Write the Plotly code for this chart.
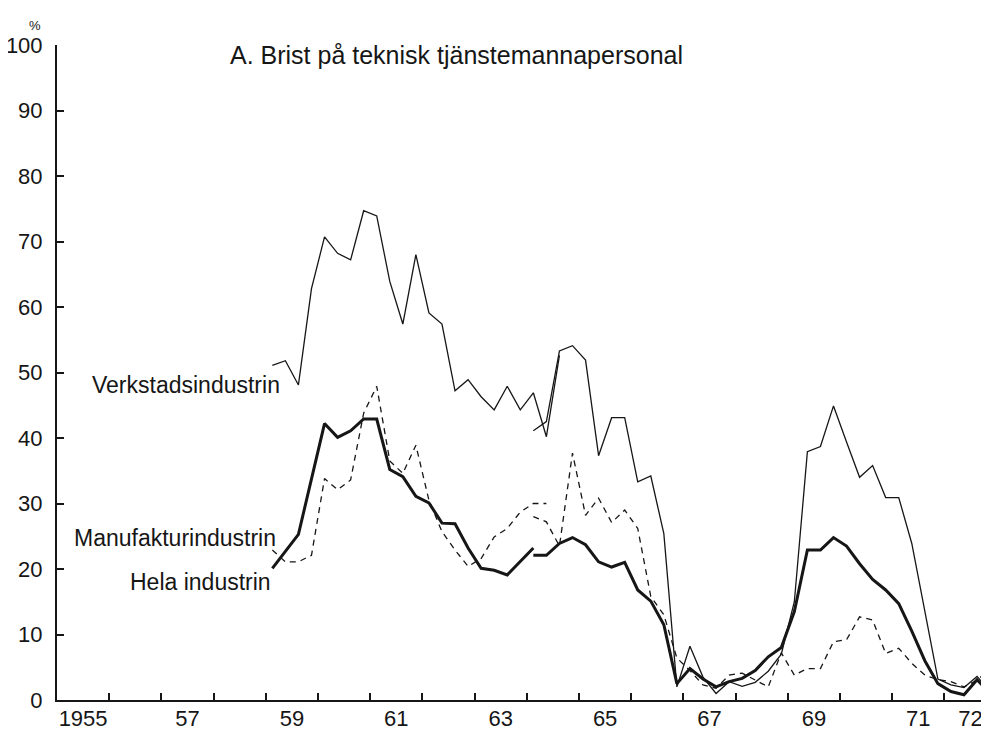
import plotly.graph_objects as go

# Verkstadsindustrin, old series (thin solid)
verk_old_x = [1959.125, 1959.375, 1959.625, 1959.875, 1960.125, 1960.375, 1960.625, 1960.875,
              1961.125, 1961.375, 1961.625, 1961.875, 1962.125, 1962.375, 1962.625, 1962.875,
              1963.125, 1963.375, 1963.625, 1963.875, 1964.125, 1964.375, 1964.625]
verk_old_y = [51.1, 51.8, 48.1, 62.8, 70.7, 68.2, 67.2, 74.7,
              73.9, 63.9, 57.4, 68.0, 59.1, 57.4, 47.2, 48.9,
              46.3, 44.3, 47.9, 44.3, 46.9, 40.2, 52.6]

# Verkstadsindustrin, new series
verk_new_x = [1964.125, 1964.375, 1964.625, 1964.875, 1965.125, 1965.375, 1965.625, 1965.875,
              1966.125, 1966.375, 1966.625, 1966.875, 1967.125, 1967.375, 1967.625, 1967.875,
              1968.125, 1968.375, 1968.625, 1968.875, 1969.125, 1969.375, 1969.625, 1969.875,
              1970.125, 1970.375, 1970.625, 1970.875, 1971.125, 1971.375, 1971.875, 1972.125,
              1972.375, 1972.625, 1972.85]
verk_new_y = [41.1, 42.5, 53.3, 54.1, 51.9, 37.3, 43.1, 43.1,
              33.3, 34.2, 25.4, 2.0, 8.2, 3.5, 1.0, 2.8,
              2.1, 2.7, 4.4, 7.0, 15.0, 37.9, 38.7, 44.9,
              39.4, 34.0, 35.8, 30.9, 30.9, 23.9, 3.2, 2.3,
              1.9, 3.6, 1.5]

# Hela industrin (thick solid)
hela_old_x = [1959.125, 1959.625, 1960.125, 1960.375, 1960.625, 1960.875, 1961.125, 1961.375,
              1961.625, 1961.875, 1962.125, 1962.375, 1962.625, 1962.875, 1963.125, 1963.375,
              1963.625, 1963.875, 1964.125]
hela_old_y = [20.1, 25.3, 42.2, 40.1, 41.1, 42.9, 42.9, 35.2,
              34.1, 31.1, 30.1, 27.0, 26.9, 23.2, 20.1, 19.8,
              19.1, 21.1, 23.2]

hela_new_x = [1964.125, 1964.375, 1964.625, 1964.875, 1965.125, 1965.375, 1965.625, 1965.875,
              1966.125, 1966.375, 1966.625, 1966.875, 1967.125, 1967.375, 1967.625, 1967.875,
              1968.125, 1968.375, 1968.625, 1968.875, 1969.125, 1969.375, 1969.625, 1969.875,
              1970.125, 1970.375, 1970.625, 1970.875, 1971.125, 1971.375, 1971.625, 1971.875,
              1972.125, 1972.375, 1972.625, 1972.85]
hela_new_y = [22.1, 22.1, 23.9, 24.8, 23.7, 21.1, 20.3, 21.0,
              16.8, 15.1, 11.5, 2.5, 4.8, 3.2, 2.0, 2.8,
              3.3, 4.5, 6.6, 8.0, 13.5, 22.9, 22.9, 24.8,
              23.5, 20.8, 18.4, 16.8, 14.7, 10.5, 6.0, 2.5,
              1.3, 0.8, 3.1, 1.2]

# Manufakturindustrin (dashed)
manu_old_x = [1959.125, 1959.375, 1959.625, 1959.875, 1960.125, 1960.375, 1960.625, 1960.875,
              1961.125, 1961.375, 1961.625, 1961.875, 1962.125, 1962.375, 1962.625, 1962.875,
              1963.125, 1963.375, 1963.625, 1963.875, 1964.125, 1964.375]
manu_old_y = [22.9, 21.1, 21.1, 22.1, 33.8, 32.1, 33.6, 43.8,
              47.9, 36.5, 34.6, 38.9, 30.5, 25.7, 22.9, 20.4,
              21.6, 24.9, 26.2, 28.7, 30.0, 30.0]

manu_new_x = [1964.125, 1964.375, 1964.625, 1964.875, 1965.125, 1965.375, 1965.625, 1965.875,
              1966.125, 1966.375, 1966.625, 1966.875, 1967.125, 1967.375, 1967.625, 1967.875,
              1968.125, 1968.375, 1968.625, 1968.875, 1969.125, 1969.375, 1969.625, 1969.875,
              1970.125, 1970.375, 1970.625, 1970.875, 1971.125, 1971.375, 1971.625, 1971.875,
              1972.125, 1972.375, 1972.625, 1972.85]
manu_new_y = [28.0, 27.2, 23.5, 37.7, 28.2, 30.8, 27.1, 29.0,
              26.2, 15.8, 13.0, 6.4, 4.5, 2.3, 1.8, 3.8,
              4.1, 3.1, 2.0, 7.2, 3.8, 4.8, 4.8, 8.9,
              9.2, 12.7, 12.2, 7.1, 7.9, 5.6, 3.8, 3.1,
              2.8, 2.0, 3.0, 4.7]

# axis labels
year_ticks = [1956, 1957, 1958, 1959, 1960, 1961, 1962, 1963, 1964, 1965, 1966,
              1967, 1968, 1969, 1970, 1971, 1972]
year_label_pos = [1955.5, 1957.5, 1959.5, 1961.5, 1963.5, 1965.5, 1967.5, 1969.5, 1971.5, 1972.5]
year_labels = ['1955', '57', '59', '61', '63', '65', '67', '69', '71', '72']
y_ticks = [0, 10, 20, 30, 40, 50, 60, 70, 80, 90, 100]

INK = '#161616'
FONT = 'Liberation Sans, Arial, sans-serif'

fig = go.Figure()


def add_line(x, y, width, dash='solid'):
    fig.add_trace(go.Scatter(x=x, y=y, mode='lines', showlegend=False, hoverinfo='skip',
                             line=dict(color=INK, width=width, dash=dash)))


add_line(manu_old_x, manu_old_y, 1.3, '6px,5px')
add_line(manu_new_x, manu_new_y, 1.3, '6px,5px')
add_line(verk_old_x, verk_old_y, 1.3)
add_line(verk_new_x, verk_new_y, 1.3)
add_line(hela_old_x, hela_old_y, 3)
add_line(hela_new_x, hela_new_y, 3)

fig.update_xaxes(range=[1955, 1972.854], showgrid=False, zeroline=False, automargin=False,
                 showline=True, linewidth=2, linecolor=INK,
                 tickmode='array', tickvals=year_label_pos, ticktext=year_labels,
                 ticks='', ticklabelstandoff=-2,
                 tickfont=dict(size=22, color=INK, family=FONT),
                 minor=dict(tickmode='array', tickvals=year_ticks, ticks='inside',
                            ticklen=7, tickwidth=2, tickcolor=INK, showgrid=False))
fig.update_yaxes(range=[0, 100], showgrid=False, zeroline=False, automargin=False,
                 showline=True, linewidth=2, linecolor=INK,
                 tickmode='array', tickvals=y_ticks,
                 ticks='inside', ticklen=7, tickwidth=2, tickcolor=INK,
                 ticklabelstandoff=8,
                 tickfont=dict(size=22, color=INK, family=FONT))

# series labels and title
fig.add_annotation(x=1962.66, y=98.5, text='A. Brist på teknisk tjänstemannapersonal',
                   showarrow=False, xanchor='center', yanchor='middle',
                   font=dict(size=25, color=INK, family=FONT))
fig.add_annotation(x=1955.63, y=48.1, text='Verkstadsindustrin', showarrow=False,
                   xanchor='left', yanchor='middle', font=dict(size=23, color=INK, family=FONT))
fig.add_annotation(x=1955.29, y=24.7, text='Manufakturindustrin', showarrow=False,
                   xanchor='left', yanchor='middle', font=dict(size=23, color=INK, family=FONT))
fig.add_annotation(x=1956.36, y=18.0, text='Hela industrin', showarrow=False,
                   xanchor='left', yanchor='middle', font=dict(size=23, color=INK, family=FONT))
fig.add_annotation(x=0, y=1, xref='paper', yref='paper', text='%', showarrow=False,
                   xanchor='right', yanchor='bottom', xshift=-14, yshift=10,
                   font=dict(size=13, color=INK, family=FONT))

# the page puts the figure 8px in from the top-left corner, so the figure is
# 8px smaller and its margins 8px tighter on those sides
fig.update_layout(width=981, height=725, margin=dict(l=49, r=0, t=37, b=33),
                  plot_bgcolor='white', paper_bgcolor='white',
                  font=dict(family=FONT, color=INK))

fig.write_html('out.html')
